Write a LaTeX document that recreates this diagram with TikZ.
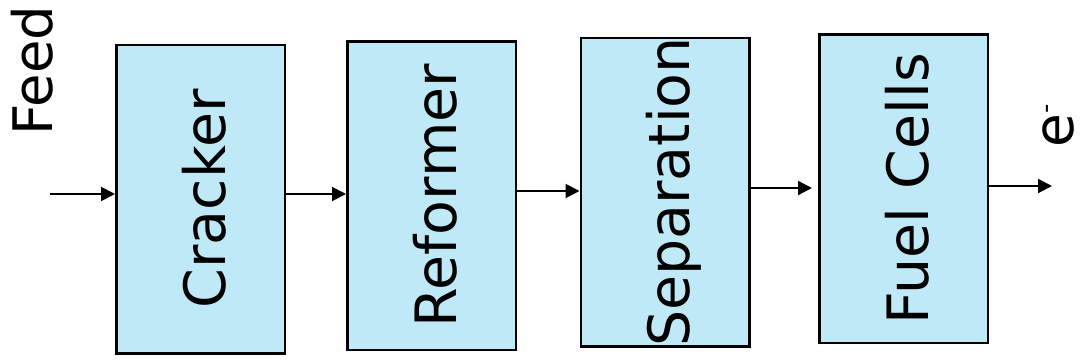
\documentclass[tikz,border=0pt]{standalone}
\usepackage{fontspec}
\setmainfont{DejaVu Sans}
\usetikzlibrary{arrows.meta}
\definecolor{boxfill}{RGB}{191,233,247}
\tikzset{
  unit/.style={draw=black, line width=2.5pt, fill=boxfill, minimum width=168.5pt, minimum height=308.5pt, inner sep=0pt},
  lbl/.style={rotate=90, anchor=base, inner sep=0pt, font=\fontsize{57}{60}\selectfont},
  arr/.style={line width=2pt, -{Triangle[length=14pt,width=14pt]}}
}
\begin{document}
\begin{tikzpicture}[x=1pt,y=-1pt]
\useasboundingbox (0,0) rectangle (1081,362);
\node[unit] (crack) at (200.5,199) {};
\node[unit] (ref) at (431.5,195.5) {};
\node[unit] (sep) at (665,192) {};
\node[unit] (fuel) at (903.5,188.5) {};
\node[lbl] (tcrack) at (225,199) {Cracker};
\node[lbl] (tref) at (456,195.5) {Reformer};
\node[lbl] (tsep) at (689.5,192) {Separation};
\node[lbl] (tfuel) at (928,188.5) {Fuel Cells};
\node[lbl, anchor=base west, font=\fontsize{54.5}{58}\selectfont] (feed) at (52,136) {Feed};
\node[lbl, anchor=base west, text depth=0pt, font=\fontsize{55}{58}\selectfont] (el) at (1073,148) {e\raisebox{19pt}{\fontsize{26}{26}\selectfont -}};
\coordinate (in) at (50,194);
\coordinate (y2) at (0,194);
\coordinate (y3) at (0,191);
\coordinate (y4) at (0,188);
\coordinate (y5) at (0,186);
\coordinate (out) at (1052,186);
\draw[arr] (in) -- (in -| crack.west);
\draw[arr] (crack.east |- y2) -- (ref.west |- y2);
\draw[arr] (ref.east |- y3) -- (sep.west |- y3);
\draw[arr, shorten >=6pt] (sep.east |- y4) -- (fuel.west |- y4);
\draw[arr] (fuel.east |- y5) -- (out);
\end{tikzpicture}
\end{document}
